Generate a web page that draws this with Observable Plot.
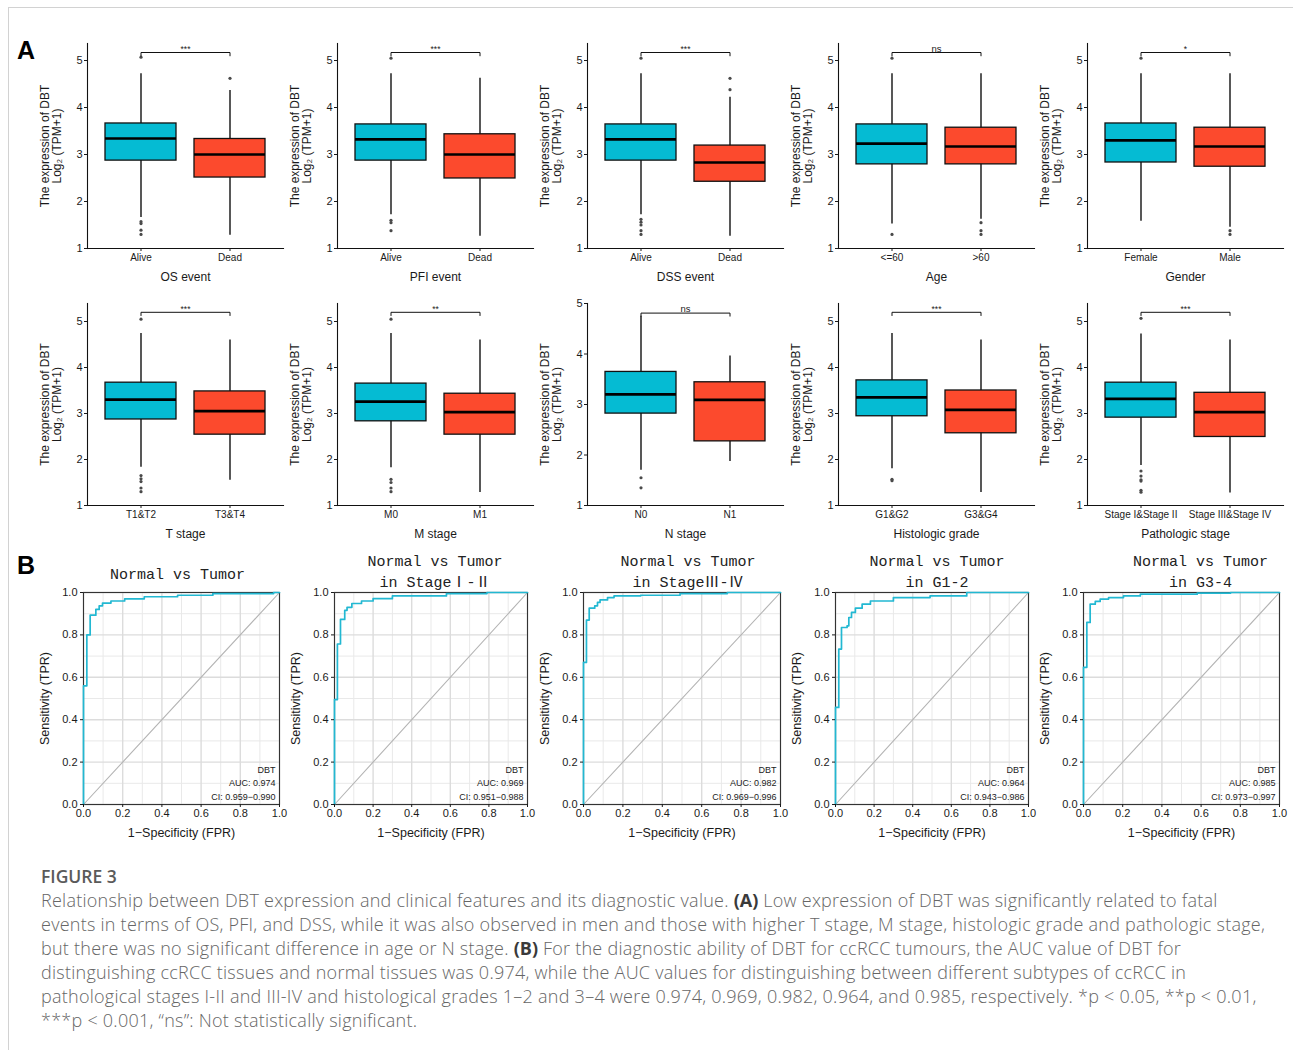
<!DOCTYPE html>
<html><head><meta charset="utf-8">
<script src="https://cdn.jsdelivr.net/npm/d3@7"></script>
<script src="https://cdn.jsdelivr.net/npm/@observablehq/plot@0.6"></script>
<style>
html,body{margin:0;padding:0;background:#fff}
body{width:1293px;height:1050px;overflow:hidden;position:relative;font-family:"Liberation Sans",Arial,sans-serif}
#frame{position:absolute;left:8px;top:7px;width:1300px;height:1060px;border-top:1px solid #d2d2d2;border-left:1px solid #d2d2d2}
.pn{position:absolute}
.tag{position:absolute;font:bold 25px "Liberation Sans",Arial,sans-serif;color:#000}
#cap{position:absolute;left:41px;top:864px;font-family:"Open Sans",sans-serif;color:#666;white-space:nowrap}
#cap .fig{font-size:17.5px;font-weight:600;color:#5a5a5a;line-height:24px}
#cap .txt{font-size:18px;font-weight:300;letter-spacing:0.25px;line-height:24px;margin-top:0}
#cap b{color:#3a3a3a;font-weight:700;letter-spacing:0}
</style></head>
<body>
<div id="frame"></div>
<div class="tag" style="left:17px;top:36px">A</div>
<div class="tag" style="left:17px;top:551px">B</div>
<div id="root"></div>
<div id="cap">
<div class="fig">FIGURE 3</div>
<div class="txt">Relationship between DBT expression and clinical features and its diagnostic value. <b>(A)</b> Low expression of DBT was significantly related to fatal<br>events in terms of OS, PFI, and DSS, while it was also observed in men and those with higher T stage, M stage, histologic grade and pathologic stage,<br>but there was no significant difference in age or N stage. <b>(B)</b> For the diagnostic ability of DBT for ccRCC tumours, the AUC value of DBT for<br>distinguishing ccRCC tissues and normal tissues was 0.974, while the AUC values for distinguishing between different subtypes of ccRCC in<br>pathological stages I-II and III-IV and histological grades 1–2 and 3–4 were 0.974, 0.969, 0.982, 0.964, and 0.985, respectively. *p &lt; 0.05, **p &lt; 0.01,<br>***p &lt; 0.001, “ns”: Not statistically significant.</div>
</div>
<script>
// ---------- DATA: boxplots (panel A) ----------
const boxTitles = ["OS event","PFI event","DSS event","Age","Gender","T stage","M stage","N stage","Histologic grade","Pathologic stage"];
const lowGroups = ["Alive","Alive","Alive","<=60","Female","T1&T2","M0","N0","G1&G2","Stage I&Stage II"];
const highGroups = ["Dead","Dead","Dead",">60","Male","T3&T4","M1","N1","G3&G4","Stage III&Stage IV"];
const sigLabels = ["***","***","***","ns","*","***","**","ns","***","***"];
// [lower whisker, Q1, median, Q3, upper whisker]
const lowStats = [
  [1.66,2.87,3.34,3.66,4.72],[1.72,2.87,3.32,3.64,4.72],[1.72,2.87,3.32,3.64,4.72],[1.52,2.79,3.23,3.64,4.72],[1.58,2.83,3.30,3.66,4.72],
  [1.83,2.87,3.30,3.67,4.74],[1.82,2.83,3.26,3.65,4.74],[1.70,2.82,3.20,3.645,4.75],[1.80,2.94,3.35,3.72,4.74],[1.87,2.91,3.32,3.67,4.73]];
const highStats = [
  [1.28,2.51,3.00,3.33,4.36],[1.26,2.49,3.00,3.43,4.62],[1.26,2.42,2.83,3.19,4.22],[1.62,2.79,3.17,3.57,4.72],[1.45,2.74,3.17,3.57,4.72],
  [1.55,2.54,3.05,3.48,4.60],[1.28,2.54,3.03,3.43,4.60],[1.87,2.27,3.09,3.44,3.96],[1.28,2.57,3.08,3.50,4.60],[1.27,2.49,3.03,3.45,4.60]];
const lowOutliers = [
  [5.07,1.57,1.53,1.39,1.30],[5.05,1.60,1.55,1.38],[5.05,1.62,1.56,1.50,1.38,1.30],[5.05,1.30],[5.05],
  [5.05,1.65,1.58,1.52,1.38,1.30],[5.05,1.57,1.50,1.38,1.30],[1.55,1.35],[1.57,1.54],[5.07,1.75,1.64,1.56,1.53,1.33,1.29]];
const highOutliers = [[4.62],[],[4.38,4.62],[1.55,1.38,1.30],[1.38,1.30],[],[],[],[],[]];
const bracketLevel = [5.17,5.17,5.17,5.17,5.17,5.20,5.20,4.81,5.20,5.20];
const yTicks = [1,2,3,4,5];
const boxColors = ["#05BBD3","#FC4A2D"];

// ---------- DATA: ROC curves (panel B) ----------
const rocTitles = ["Normal vs Tumor","Normal vs Tumor\nin StageⅠ-Ⅱ","Normal vs Tumor\nin StageⅢ-Ⅳ","Normal vs Tumor\nin G1-2","Normal vs Tumor\nin G3-4"];
const rocAUC = ["0.974","0.969","0.982","0.964","0.985"];
const rocCI = ["0.959−0.990","0.951−0.988","0.969−0.996","0.943−0.986","0.973−0.997"];
const rocFPR = [
  [0,0.017,0.034,0.063,0.080,0.097,0.140,0.210,0.310,0.480,0.660,0.970,1],
  [0,0.015,0.031,0.053,0.065,0.090,0.140,0.200,0.300,0.580,0.790,1],
  [0,0.015,0.029,0.057,0.071,0.084,0.122,0.155,0.290,0.490,0.730,1],
  [0,0.017,0.031,0.060,0.069,0.083,0.103,0.138,0.181,0.300,0.490,0.680,1],
  [0,0.017,0.034,0.060,0.085,0.128,0.204,0.290,0.580,0.750,1]];
const rocTPR = [
  [0,0.560,0.800,0.893,0.920,0.937,0.950,0.960,0.970,0.980,0.987,0.995,1],
  [0,0.495,0.757,0.873,0.916,0.930,0.948,0.960,0.971,0.984,0.995,1],
  [0,0.670,0.870,0.926,0.937,0.953,0.965,0.976,0.984,0.987,0.995,1],
  [0,0.458,0.733,0.835,0.843,0.882,0.906,0.926,0.945,0.960,0.976,0.984,1],
  [0,0.647,0.859,0.945,0.958,0.969,0.976,0.984,0.992,0.997,1]];
const rocMajor = [0,0.2,0.4,0.6,0.8,1.0];
const rocMinor = [0.1,0.3,0.5,0.7,0.9];

// ---------- LAYOUT ----------
const boxAxisX = [87,337,587,838,1087];
const rowTop = [30,290];
const rocX0 = [83,334,583,835,1083];
const rocW = [196,193,197,193,196];
const titleShift = [-4,4,6,5,19];
const font = '"Liberation Sans", Arial, sans-serif';
const root = document.getElementById("root");

function place(el, left, top) {
  const d = document.createElement("div");
  d.className = "pn"; d.style.left = left + "px"; d.style.top = top + "px";
  d.appendChild(el); root.appendChild(d);
}

for (let i = 0; i < 10; i++) {
  const row = i < 5 ? 0 : 1, col = i % 5;
  const groups = [lowGroups[i], highGroups[i]];
  const st = [lowStats[i], highStats[i]];
  const boxes = groups.map((g, k) => ({group: g, lo: st[k][0], q1: st[k][1], med: st[k][2], q3: st[k][3], hi: st[k][4], fill: boxColors[k]}));
  const outs = [];
  lowOutliers[i].forEach(v => outs.push({group: groups[0], v}));
  highOutliers[i].forEach(v => outs.push({group: groups[1], v}));
  const plotH = row === 0 ? 205 : 202;
  const yMax = i === 7 ? 5 : 1 + plotH / (row === 0 ? 47 : 46);
  const b = bracketLevel[i];
  const tip = i === 7 ? 0.06 : 0.07;
  const bracket = [{g: groups[0], y: b - tip}, {g: groups[0], y: b}, {g: groups[1], y: b}, {g: groups[1], y: b - tip}];
  const p = Plot.plot({
    width: 52 + 196 + 4, height: 13 + plotH + 40,
    marginLeft: 52, marginRight: 4, marginTop: 13, marginBottom: 40,
    x: {type: "band", domain: groups, paddingInner: 0.2, paddingOuter: 0.2},
    y: {domain: [1, yMax]},
    color: {type: "identity"},
    style: {background: "none", fontFamily: font, color: "#1a1a1a", overflow: "visible"},
    marks: [
      Plot.frame({anchor: "left", stroke: "#111", strokeWidth: 1.1}),
      Plot.frame({anchor: "bottom", stroke: "#111", strokeWidth: 1.1}),
      Plot.axisY({ticks: yTicks, tickSize: 3, tickPadding: 2, label: null, fontSize: 11, tickFormat: d3.format("d")}),
      Plot.axisY({ticks: [], label: "The expression of DBT\nLog₂ (TPM+1)", labelArrow: "none", labelAnchor: "center", labelOffset: 47, fontSize: 12}),
      Plot.axisX({tickSize: 3, tickPadding: 2, label: null, fontSize: 10}),
      Plot.axisX({ticks: [], label: boxTitles[i], labelArrow: "none", labelAnchor: "center", labelOffset: 32, fontSize: 12}),
      Plot.ruleX(boxes, {x: "group", y1: "lo", y2: "hi", stroke: "#111", strokeWidth: 1.4}),
      Plot.barY(boxes, {x: "group", y1: "q1", y2: "q3", fill: "fill", stroke: "#111", strokeWidth: 1.3}),
      Plot.tickY(boxes, {x: "group", y: "med", stroke: "#000", strokeWidth: 2.7}),
      Plot.dot(outs, {x: "group", y: "v", r: 1.6, fill: "#4a4a4a", stroke: null}),
      Plot.line(bracket, {x: "g", y: "y", stroke: "#111", strokeWidth: 1}),
      Plot.text([sigLabels[i]], {text: d => d, y: () => b + 0.015, lineAnchor: "bottom", fontSize: sigLabels[i] === "ns" ? 9.5 : 8.5})
    ]
  });
  place(p, boxAxisX[col] - 52, rowTop[row]);
}

for (let j = 0; j < 5; j++) {
  const pts = rocFPR[j].map((f, k) => ({fpr: f, tpr: rocTPR[j][k]}));
  const p = Plot.plot({
    width: 52 + rocW[j] + 6, height: 62 + 212 + 38,
    marginLeft: 52, marginRight: 6, marginTop: 62, marginBottom: 38,
    x: {domain: [0, 1]},
    y: {domain: [0, 1]},
    style: {background: "none", fontFamily: font, color: "#1a1a1a", overflow: "visible"},
    marks: [
      Plot.ruleX(rocMinor, {stroke: "#e9e9e9", strokeWidth: 1}),
      Plot.ruleY(rocMinor, {stroke: "#e9e9e9", strokeWidth: 1}),
      Plot.ruleX(rocMajor, {stroke: "#dcdcdc", strokeWidth: 1.4}),
      Plot.ruleY(rocMajor, {stroke: "#dcdcdc", strokeWidth: 1.4}),
      Plot.line([{a: 0}, {a: 1}], {x: "a", y: "a", stroke: "#b4b4b4", strokeWidth: 1.1}),
      Plot.frame({stroke: "#333", strokeWidth: 1.1}),
      Plot.line(pts, {x: "fpr", y: "tpr", curve: "step-before", stroke: "#22B8D2", strokeWidth: 1.7}),
      Plot.axisY({ticks: rocMajor, tickSize: 3, tickPadding: 3, label: null, fontSize: 11, tickFormat: d3.format(".1f")}),
      Plot.axisY({ticks: [], label: "Sensitivity (TPR)", labelArrow: "none", labelAnchor: "center", labelOffset: 43, fontSize: 12.5}),
      Plot.axisX({ticks: rocMajor, tickSize: 3, tickPadding: 2, label: null, fontSize: 11, tickFormat: d3.format(".1f")}),
      Plot.axisX({ticks: [], label: "1−Specificity (FPR)", labelArrow: "none", labelAnchor: "center", labelOffset: 32, fontSize: 12.5}),
      Plot.text([`DBT\nAUC: ${rocAUC[j]}\nCI: ${rocCI[j]}`], {text: d => d, frameAnchor: "bottom-right", dx: -4, dy: -5, lineHeight: 1.45, fontSize: 9, fill: "#222"}),
      Plot.text([rocTitles[j]], {text: d => d, frameAnchor: "top", dx: titleShift[j], dy: j === 0 ? -20 : -23, lineAnchor: "middle", lineHeight: 1.45, fontSize: 15, fontFamily: '"Liberation Mono", "Noto Sans CJK SC", monospace', fill: "#222"})
    ]
  });
  place(p, rocX0[j] - 52, 530);
}
</script>
</body></html>
